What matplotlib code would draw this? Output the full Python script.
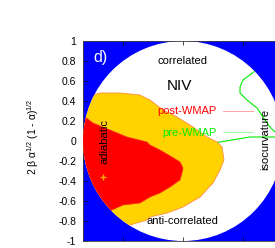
import matplotlib
matplotlib.use("Agg")
import matplotlib.pyplot as plt
from matplotlib.patches import Circle, Polygon
import numpy as np

plt.rcParams['font.family'] = ['Liberation Sans', 'DejaVu Sans']
plt.rcParams['mathtext.fontset'] = 'custom'
plt.rcParams['mathtext.rm'] = 'Liberation Sans'
plt.rcParams['mathtext.it'] = 'Liberation Sans'

# post-WMAP 2-sigma region (yellow), closed outside the unit circle
post2_x = [-1.10, -0.95, -0.83, -0.63, -0.43, -0.33, -0.20, -0.06, 0.10, 0.24, 0.34, 0.39,
           0.41, 0.37, 0.30, 0.17, 0.00, -0.16, -0.33, -0.36, -0.53, -0.62, -1.10]
post2_y = [0.44, 0.44, 0.48, 0.48, 0.46, 0.41, 0.31, 0.24, 0.14, 0.04, -0.01, -0.06,
           -0.19, -0.29, -0.42, -0.56, -0.66, -0.72, -0.76, -0.79, -0.84, -0.92, -0.92]

# post-WMAP 1-sigma region (red)
post1_x = [-1.10, -0.98, -0.90, -0.73, -0.56, -0.36, -0.33, -0.23, -0.11, -0.03, 0.00,
           -0.01, -0.03, -0.13, -0.23, -0.33, -0.43, -0.60, -0.71, -0.80, -1.10]
post1_y = [0.24, 0.24, 0.18, 0.11, 0.04, -0.01, -0.04, -0.09, -0.16, -0.21, -0.27,
           -0.32, -0.39, -0.46, -0.52, -0.56, -0.62, -0.64, -0.69, -0.76, -0.76]

# pre-WMAP contour (green), partly hidden
pre_x = [0.72, 0.60, 0.57, 0.57, 0.64, 0.74, 0.80, 0.87, 0.92, 0.97, 0.92, 0.67, 0.37, 0.30]
pre_y = [0.70, 0.61, 0.54, 0.48, 0.41, 0.33, 0.24, 0.14, 0.09, 0.07, 0.04, 0.04, -0.01, -0.02]

best_fit = (-0.80, -0.36)

fig = plt.figure(figsize=(2.75, 2.48), dpi=100)
ax = fig.add_axes([83 / 275, 7 / 248, 200 / 275, 200 / 248])
ax.set_xlim(-1, 1)
ax.set_ylim(-1, 1)
ax.set_facecolor('#0000ff')

circ = Circle((0, 0), 1, facecolor='white', edgecolor='none', zorder=1)
ax.add_patch(circ)

clip = Circle((0, 0), 1, transform=ax.transData)

green, = ax.plot(pre_x, pre_y, color='#00ee00', lw=0.8, zorder=2)
green.set_clip_path(clip)

yellow = Polygon(np.column_stack([post2_x, post2_y]), closed=True,
                 facecolor='#ffd200', edgecolor='#ff8c40', lw=0.6, zorder=3)
ax.add_patch(yellow)
yellow.set_clip_path(clip)

red = Polygon(np.column_stack([post1_x, post1_y]), closed=True,
              facecolor='#ff0000', edgecolor='#ff3020', lw=0.5, zorder=4)
ax.add_patch(red)
red.set_clip_path(clip)

ax.plot(*best_fit, marker='+', color='#ffa500', ms=5, mew=1, zorder=5)

# labels
ax.text(-0.82, 0.84, 'd)', color='white', fontsize=11.5, ha='center', va='center', zorder=6)
ax.text(0.0, 0.80, 'correlated', fontsize=8, ha='center', va='center', zorder=6)
ax.text(-0.04, 0.55, 'NIV', fontsize=11, ha='center', va='center', zorder=6)
ax.text(0.34, 0.30, 'post-WMAP', color='#ff0000', fontsize=8, ha='right', va='center', zorder=6)
ax.text(0.34, 0.08, 'pre-WMAP', color='#00ee00', fontsize=8, ha='right', va='center', zorder=6)
ax.plot([0.40, 0.70], [0.30, 0.30], color='#ff9090', lw=0.6, zorder=6)
ax.plot([0.40, 0.70], [0.09, 0.09], color='#90ff90', lw=0.6, zorder=6)
ax.text(-0.01, -0.80, 'anti-correlated', fontsize=8, ha='center', va='center', zorder=6)
ax.text(-0.79, 0.0, 'adiabatic', fontsize=8, rotation=90, ha='center', va='center', zorder=6)
ax.text(0.82, 0.02, 'isocurvature', fontsize=8, rotation=90, ha='center', va='center', zorder=6)

ax.set_yticks(np.arange(-1, 1.01, 0.2))
ax.set_yticklabels(['-1', '-0.8', '-0.6', '-0.4', '-0.2', '0', '0.2', '0.4', '0.6', '0.8', '1'])
ax.set_xticks([-0.6, 0, 0.6])
ax.set_xticklabels([])
ax.tick_params(axis='y', direction='in', length=3, width=0.5, labelsize=7.5, pad=5)
ax.tick_params(axis='x', direction='in', length=3, width=0.5, top=True)
for s in ax.spines.values():
    s.set_linewidth(0.6)
    s.set_color('#404040')

ax.set_ylabel('2 β α$^{1/2}$ (1 - α)$^{1/2}$', fontsize=7.5)
ax.yaxis.set_label_coords(-0.21, 0.52)

fig.savefig('out.png', dpi=100)
